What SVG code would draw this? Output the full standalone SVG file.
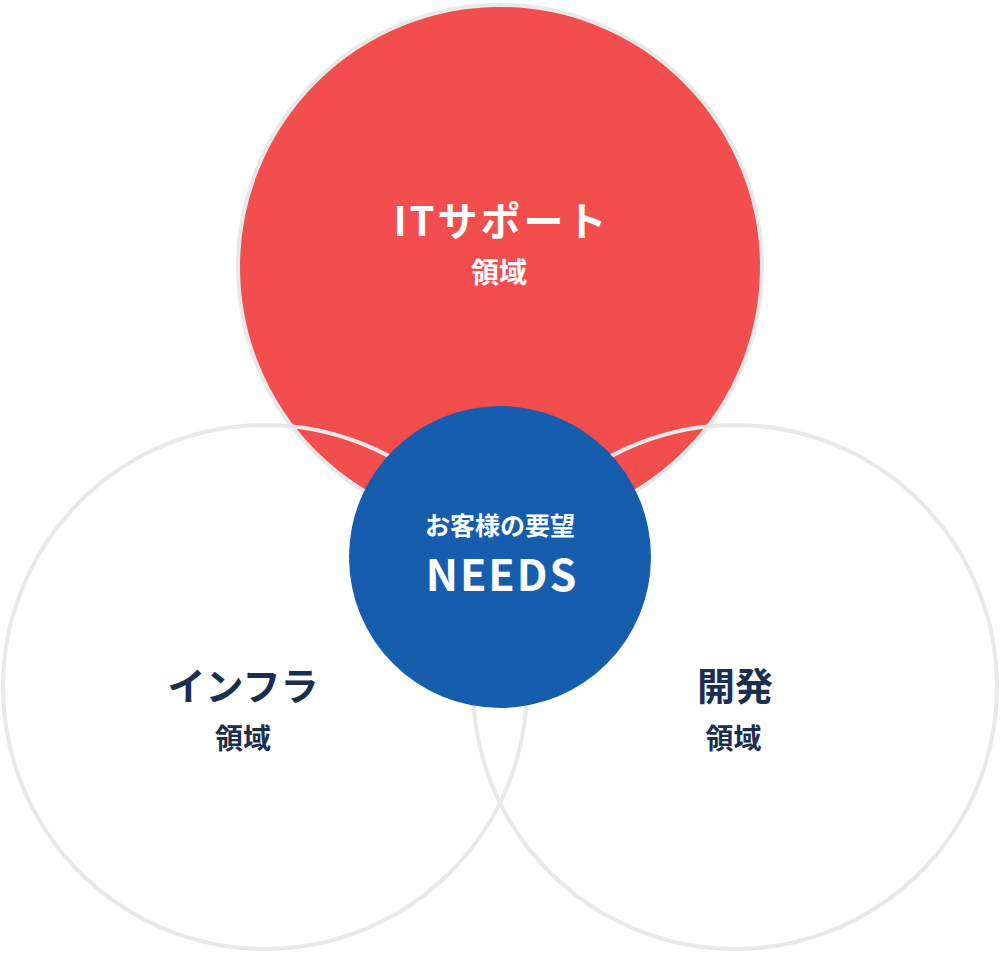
<svg xmlns="http://www.w3.org/2000/svg" width="1000" height="954" viewBox="0 0 1000 954">
<style>
.ring{fill:none;stroke:#E8E8E8;stroke-width:4}
.t{font-family:"Noto Sans CJK JP","Noto Sans",sans-serif;font-weight:700;text-anchor:middle}
.w{fill:#FFFFFF}
.n{fill:#1A2E50}
</style>
<rect width="1000" height="954" fill="#FFFFFF"/>
<g id="it-support">
<circle cx="500" cy="267" r="262" fill="#F24E4E" stroke="#E8E8E8" stroke-width="4"/>
</g>
<g id="infra">
<circle class="ring" cx="265" cy="687" r="262"/>
</g>
<g id="dev">
<circle class="ring" cx="735" cy="687" r="262"/>
</g>
<g id="needs">
<circle cx="500" cy="557" r="151" fill="#175DAD"/>
</g>
<g id="labels">
<text class="t w" x="501.5" y="236" font-size="40" letter-spacing="3">ITサポート</text>
<text class="t w" x="499" y="283" font-size="28">領域</text>
<text class="t w" x="500" y="535" font-size="25">お客様の要望</text>
<text class="t w" x="502" y="591" font-size="43" letter-spacing="2">NEEDS</text>
<text class="t n" x="243" y="700" font-size="38">インフラ</text>
<text class="t n" x="243" y="749" font-size="28">領域</text>
<text class="t n" x="735" y="700" font-size="38">開発</text>
<text class="t n" x="733.5" y="749" font-size="28">領域</text>
</g>
<g id="connectors"></g>
</svg>
